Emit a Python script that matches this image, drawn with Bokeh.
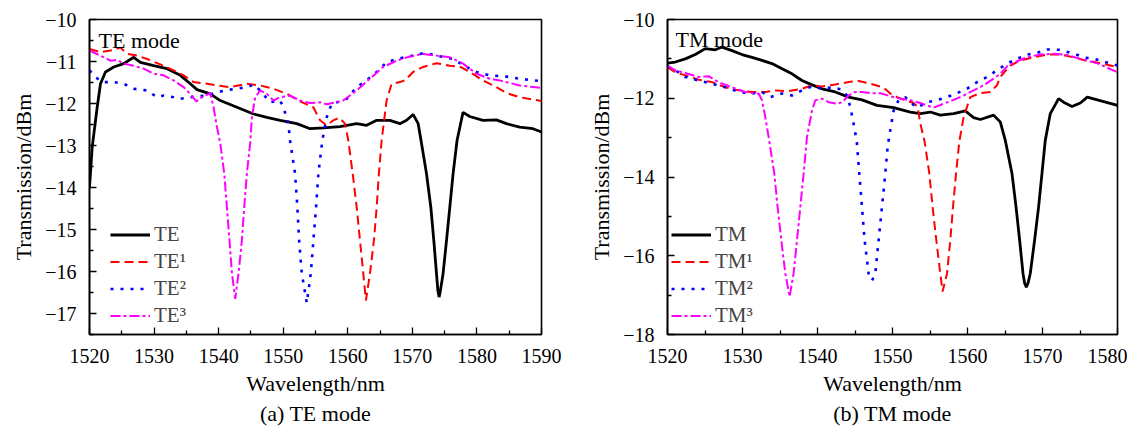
from bokeh.plotting import figure
from bokeh.layouts import row
from bokeh.models import Range1d, FixedTicker, Legend, LegendItem, Label, Title
from bokeh.embed import file_html
from bokeh.resources import INLINE

FONT = "Liberation Serif"

# ---------------- data ----------------
# (a) TE mode
te = [(1520.0, -14.0), (1520.42, -13.04), (1521.19, -12.09), (1521.70, -11.53), (1522.47, -11.25),
      (1523.76, -11.13), (1525.30, -11.05), (1526.85, -10.90), (1527.88, -11.02), (1529.94, -11.10),
      (1532.01, -11.17), (1534.07, -11.33), (1535.61, -11.53), (1536.65, -11.67), (1538.70, -11.77),
      (1540.25, -11.93), (1542.83, -12.09), (1545.39, -12.25), (1547.47, -12.33), (1549.52, -12.40),
      (1552.10, -12.48), (1554.16, -12.60), (1556.21, -12.58), (1558.79, -12.55), (1561.37, -12.48),
      (1562.92, -12.52), (1564.47, -12.40), (1566.52, -12.40), (1568.07, -12.48), (1569.10, -12.40),
      (1570.12, -12.26), (1570.90, -12.48), (1571.42, -12.95), (1572.19, -13.67), (1572.86, -14.47),
      (1573.32, -15.26), (1573.74, -16.05), (1573.95, -16.45), (1574.14, -16.61), (1574.35, -16.45),
      (1574.76, -16.05), (1575.29, -15.26), (1575.80, -14.47), (1576.31, -13.67), (1576.92, -12.88),
      (1577.85, -12.21), (1578.89, -12.31), (1580.94, -12.40), (1583.01, -12.39), (1584.56, -12.48),
      (1586.62, -12.56), (1588.67, -12.60), (1590.0, -12.68)]
te1 = [(1520.0, -10.70), (1521.70, -10.78), (1523.25, -10.74), (1524.79, -10.67), (1525.83, -10.82),
       (1527.37, -10.86), (1528.92, -10.94), (1530.97, -11.07), (1533.03, -11.21), (1534.57, -11.33),
       (1536.12, -11.49), (1538.19, -11.53), (1539.74, -11.57), (1541.79, -11.61), (1544.37, -11.53),
       (1546.43, -11.57), (1548.49, -11.65), (1550.56, -11.77), (1552.61, -11.95), (1554.67, -12.09),
       (1555.70, -12.40), (1556.74, -12.52), (1557.76, -12.40), (1558.69, -12.34), (1559.57, -12.48),
       (1560.08, -12.88), (1560.76, -13.67), (1561.38, -14.47), (1561.89, -15.26), (1562.40, -16.05),
       (1562.81, -16.69), (1563.43, -16.05), (1564.05, -15.26), (1564.47, -14.47), (1564.82, -13.67),
       (1565.24, -12.88), (1566.01, -11.93), (1566.79, -11.53), (1568.07, -11.49), (1568.84, -11.45),
       (1570.12, -11.25), (1571.67, -11.13), (1573.74, -11.04), (1575.80, -11.10), (1577.34, -11.12),
       (1578.89, -11.25), (1580.94, -11.45), (1583.01, -11.61), (1584.56, -11.75), (1586.62, -11.85),
       (1590.0, -11.94)]
te2 = [(1520.0, -11.21), (1520.93, -11.37), (1521.96, -11.49), (1523.76, -11.49), (1525.30, -11.53),
       (1526.85, -11.65), (1528.92, -11.69), (1530.46, -11.85), (1531.48, -11.81), (1533.03, -11.85),
       (1534.07, -11.89), (1535.61, -11.85), (1538.19, -11.81), (1539.74, -11.73), (1541.79, -11.67),
       (1544.37, -11.61), (1545.39, -11.55), (1546.43, -11.69), (1547.97, -11.97), (1549.52, -11.93),
       (1550.03, -12.09), (1550.80, -12.48), (1551.07, -12.90), (1551.84, -13.67), (1552.19, -14.47),
       (1552.46, -15.26), (1552.88, -16.05), (1553.65, -16.75), (1554.27, -16.05), (1554.67, -15.26),
       (1555.09, -14.47), (1555.44, -13.67), (1556.06, -12.88), (1556.74, -12.33), (1557.51, -12.00),
       (1558.79, -11.95), (1559.83, -11.89), (1561.37, -11.61), (1562.92, -11.45), (1564.47, -11.25),
       (1566.01, -11.02), (1567.56, -10.94), (1570.12, -10.86), (1571.93, -10.79), (1573.74, -10.86),
       (1576.31, -10.94), (1578.38, -11.13), (1579.92, -11.25), (1581.98, -11.33), (1584.56, -11.36),
       (1586.62, -11.41), (1590.0, -11.47)]
te3 = [(1520.0, -10.74), (1521.70, -10.86), (1523.25, -10.98), (1524.28, -10.96), (1525.30, -11.05),
       (1526.85, -11.10), (1528.39, -11.17), (1529.94, -11.29), (1531.48, -11.33), (1533.03, -11.45),
       (1534.57, -11.61), (1535.61, -11.77), (1536.54, -11.95), (1537.42, -11.85), (1538.70, -11.75),
       (1539.21, -12.09), (1539.74, -12.56), (1540.25, -12.95), (1540.87, -13.67), (1541.28, -14.47),
       (1541.68, -15.26), (1542.06, -16.05), (1542.57, -16.65), (1543.08, -16.05), (1543.60, -15.26),
       (1543.96, -14.47), (1544.37, -13.67), (1544.88, -12.95), (1545.15, -12.33), (1545.66, -11.85),
       (1546.43, -11.69), (1547.47, -11.77), (1548.49, -11.93), (1549.52, -11.85), (1551.07, -11.81),
       (1552.61, -11.93), (1554.16, -11.99), (1555.70, -11.97), (1556.74, -12.02), (1558.28, -11.97),
       (1559.30, -11.93), (1561.37, -11.69), (1563.43, -11.41), (1565.49, -11.13), (1567.56, -10.98),
       (1569.61, -10.88), (1571.67, -10.82), (1573.74, -10.86), (1575.80, -10.90), (1577.85, -11.05),
       (1579.92, -11.29), (1581.98, -11.41), (1583.52, -11.45), (1586.62, -11.57), (1590.0, -11.63)]

# (b) TM mode
tm = [(1520.0, -11.11), (1521.04, -11.08), (1522.37, -11.00), (1523.71, -10.89), (1525.04, -10.74),
      (1526.37, -10.77), (1527.27, -10.70), (1528.60, -10.79), (1529.93, -10.89), (1531.27, -10.96),
      (1532.60, -11.04), (1533.93, -11.12), (1535.27, -11.25), (1536.60, -11.38), (1537.93, -11.55),
      (1539.27, -11.66), (1540.60, -11.76), (1542.37, -11.84), (1544.15, -11.97), (1545.93, -12.04),
      (1547.93, -12.18), (1550.15, -12.24), (1552.37, -12.35), (1553.71, -12.39), (1555.04, -12.35),
      (1556.37, -12.43), (1558.15, -12.39), (1559.71, -12.32), (1560.81, -12.49), (1561.71, -12.54),
      (1563.48, -12.43), (1564.37, -12.60), (1565.04, -13.07), (1565.93, -13.91), (1566.47, -14.76),
      (1566.95, -15.60), (1567.40, -16.45), (1567.62, -16.70), (1567.84, -16.80), (1568.06, -16.70),
      (1568.37, -16.45), (1568.95, -15.60), (1569.48, -14.76), (1569.93, -13.91), (1570.37, -13.07),
      (1571.04, -12.39), (1572.15, -12.01), (1572.81, -12.10), (1573.93, -12.21), (1575.04, -12.12),
      (1575.97, -11.97), (1577.43, -12.05), (1580.0, -12.18)]
tm1 = [(1520.0, -11.21), (1521.04, -11.34), (1522.37, -11.42), (1524.15, -11.53), (1525.93, -11.59),
       (1527.71, -11.72), (1529.48, -11.80), (1531.27, -11.84), (1533.04, -11.84), (1534.37, -11.80),
       (1536.15, -11.82), (1537.93, -11.76), (1539.27, -11.67), (1540.60, -11.70), (1542.37, -11.65),
       (1544.15, -11.59), (1545.48, -11.56), (1547.04, -11.63), (1548.81, -11.73), (1549.71, -11.88),
       (1550.60, -11.97), (1551.71, -12.05), (1552.81, -12.12), (1553.35, -12.22), (1553.71, -12.64),
       (1554.28, -13.10), (1554.91, -13.91), (1555.35, -14.76), (1555.84, -15.60), (1556.37, -16.45),
       (1556.68, -16.91), (1557.27, -16.45), (1557.71, -15.60), (1558.07, -14.76), (1558.47, -13.91),
       (1558.91, -13.10), (1559.48, -12.48), (1560.37, -11.97), (1561.71, -11.87), (1563.04, -11.84),
       (1563.93, -11.67), (1564.37, -11.46), (1565.71, -11.17), (1567.04, -11.04), (1568.81, -10.96),
       (1570.60, -10.89), (1572.37, -10.89), (1574.15, -10.96), (1575.71, -11.04), (1576.95, -11.08),
       (1580.0, -11.21)]
tm2 = [(1520.0, -11.19), (1521.04, -11.29), (1522.37, -11.46), (1524.15, -11.55), (1525.93, -11.63),
       (1527.71, -11.72), (1529.48, -11.84), (1531.27, -11.88), (1532.60, -11.84), (1533.71, -11.97),
       (1535.27, -11.88), (1536.60, -11.93), (1537.93, -11.80), (1539.27, -11.70), (1540.60, -11.76),
       (1541.93, -11.72), (1543.27, -11.78), (1543.93, -11.93), (1544.37, -12.22), (1544.81, -12.64),
       (1545.24, -13.10), (1545.57, -13.91), (1545.93, -14.76), (1546.28, -15.60), (1546.81, -16.45),
       (1547.27, -16.63), (1547.71, -16.45), (1548.15, -15.60), (1548.60, -14.76), (1549.04, -13.91),
       (1549.37, -13.20), (1549.71, -12.81), (1550.15, -12.31), (1550.81, -12.05), (1551.71, -11.97),
       (1552.37, -12.10), (1553.27, -12.24), (1554.60, -12.10), (1555.93, -12.05), (1557.27, -11.97),
       (1558.60, -11.87), (1559.93, -11.76), (1561.27, -11.59), (1562.60, -11.46), (1563.93, -11.29),
       (1565.27, -11.12), (1566.60, -11.00), (1567.93, -10.89), (1569.27, -10.85), (1570.60, -10.76),
       (1572.37, -10.77), (1574.15, -10.87), (1575.71, -10.97), (1576.95, -11.00), (1580.0, -11.17)]
tm3 = [(1520.0, -11.17), (1521.04, -11.29), (1522.37, -11.36), (1524.15, -11.46), (1525.48, -11.44),
       (1526.81, -11.59), (1528.60, -11.72), (1530.37, -11.84), (1531.27, -11.87), (1532.15, -11.88),
       (1532.60, -12.05), (1533.04, -12.48), (1533.48, -12.98), (1534.24, -13.91), (1534.68, -14.76),
       (1535.17, -15.60), (1535.71, -16.45), (1536.28, -17.04), (1536.81, -16.45), (1537.27, -15.60),
       (1537.71, -14.76), (1538.15, -13.91), (1538.60, -12.98), (1539.27, -12.31), (1539.71, -12.05),
       (1540.60, -12.01), (1541.48, -12.10), (1542.60, -12.14), (1543.27, -12.10), (1544.15, -11.93),
       (1545.04, -11.84), (1545.93, -11.84), (1547.04, -11.87), (1548.37, -11.87), (1549.71, -11.95),
       (1551.04, -12.01), (1552.37, -12.05), (1553.71, -12.12), (1554.60, -12.18), (1555.48, -12.24),
       (1556.81, -12.14), (1558.15, -12.04), (1559.48, -11.93), (1560.81, -11.80), (1562.15, -11.67),
       (1563.48, -11.50), (1564.37, -11.38), (1565.27, -11.19), (1566.60, -11.06), (1567.93, -10.96),
       (1569.71, -10.89), (1571.48, -10.87), (1573.27, -10.90), (1575.04, -11.00), (1577.43, -11.12),
       (1580.0, -11.34)]

te_labels = ["TE", "TE\u00b9", "TE\u00b2", "TE\u00b3"]
tm_labels = ["TM", "TM\u00b9", "TM\u00b2", "TM\u00b3"]

left_xticks = [1520, 1530, 1540, 1550, 1560, 1570, 1580, 1590]
left_xminor = [1525, 1535, 1545, 1555, 1565, 1575, 1585]
left_yticks = [-10, -11, -12, -13, -14, -15, -16, -17]
left_yminor = [-10.5, -11.5, -12.5, -13.5, -14.5, -15.5, -16.5, -17.5]
right_xticks = [1520, 1530, 1540, 1550, 1560, 1570, 1580]
right_xminor = [1525, 1535, 1545, 1555, 1565, 1575]
right_yticks = [-10, -12, -14, -16, -18]
right_yminor = [-11, -13, -15, -17]

STYLES = [dict(line_color="black", line_width=2.8),
          dict(line_color="#ff0000", line_width=2.0, line_dash="9 5"),
          dict(line_color="#0000ff", line_width=2.6, line_dash="3 7"),
          dict(line_color="#ff00ff", line_width=2.0, line_dash="10 3 3 3")]


def make(series, labels, xr, yr, xt, xm, yt, ym, mode_text, caption,
         width, bl, br, legend_x, text_dx):
    p = figure(width=width, height=430, x_range=Range1d(*xr), y_range=Range1d(*yr),
               output_backend="svg", toolbar_location=None,
               min_border_left=bl, min_border_right=br, min_border_top=19, min_border_bottom=96)
    p.xgrid.visible = False
    p.ygrid.visible = False
    p.outline_line_color = "black"
    p.outline_line_width = 1.6
    p.background_fill_color = "white"
    p.border_fill_color = "white"

    items = []
    for s, lab, st in zip(series, labels, STYLES):
        xs = [a for a, b in s]
        ys = [b for a, b in s]
        r = p.line(xs, ys, **st)
        items.append(LegendItem(label=lab, renderers=[r]))

    for ax in (p.xaxis[0], p.yaxis[0]):
        ax.axis_line_width = 1.6
        ax.axis_line_color = "black"
        ax.major_tick_in = 7
        ax.major_tick_out = 0
        ax.minor_tick_in = 4
        ax.minor_tick_out = 0
        ax.major_tick_line_width = 1.3
        ax.minor_tick_line_width = 1.3
        ax.major_label_text_font = FONT
        ax.major_label_text_font_size = "20px"
        ax.major_label_text_color = "black"
        ax.axis_label_text_font = FONT
        ax.axis_label_text_font_size = "22px"
        ax.axis_label_text_font_style = "normal"
        ax.axis_label_text_color = "black"

    p.xaxis.ticker = FixedTicker(ticks=xt, minor_ticks=xm)
    p.yaxis.ticker = FixedTicker(ticks=yt, minor_ticks=ym)
    p.yaxis.major_label_overrides = {v: "\u2212" + str(abs(v)) for v in yt}
    p.xaxis.axis_label = "Wavelength/nm"
    p.yaxis.axis_label = "Transmission/dBm"
    p.xaxis.major_label_standoff = 14
    p.yaxis.major_label_standoff = 13
    p.xaxis.axis_label_standoff = 5
    p.yaxis.axis_label_standoff = 6

    leg = Legend(items=items, location=(legend_x, 6), padding=0, margin=0, spacing=2,
                 glyph_width=40, glyph_height=23, label_height=23, label_standoff=4,
                 label_text_font=FONT, label_text_font_size="21px",
                 border_line_color=None, background_fill_alpha=0)
    p.add_layout(leg)

    p.add_layout(Label(x=xr[0] + text_dx, y=-10.5, text=mode_text,
                       text_font=FONT, text_font_size="22px", text_baseline="alphabetic",
                       text_color="black"))

    p.add_layout(Title(text=caption, align="center", text_font=FONT, text_font_size="22px",
                       text_font_style="normal", text_color="black", standoff=0), "below")
    return p


p1 = make([te, te1, te2, te3], te_labels, (1520, 1590), (-17.5, -10), left_xticks, left_xminor,
          left_yticks, left_yminor, "TE mode", "(a) TE mode", 578, 89, 37, 21, 1.4)
p2 = make([tm, tm1, tm2, tm3], tm_labels, (1520, 1580), (-18, -10), right_xticks, right_xminor,
          right_yticks, right_yminor, "TM mode", "(b) TM mode", 549, 89, 10, 4, 1.07)

layout = row(p1, p2)
open("out.html", "w").write(file_html(layout, INLINE))
